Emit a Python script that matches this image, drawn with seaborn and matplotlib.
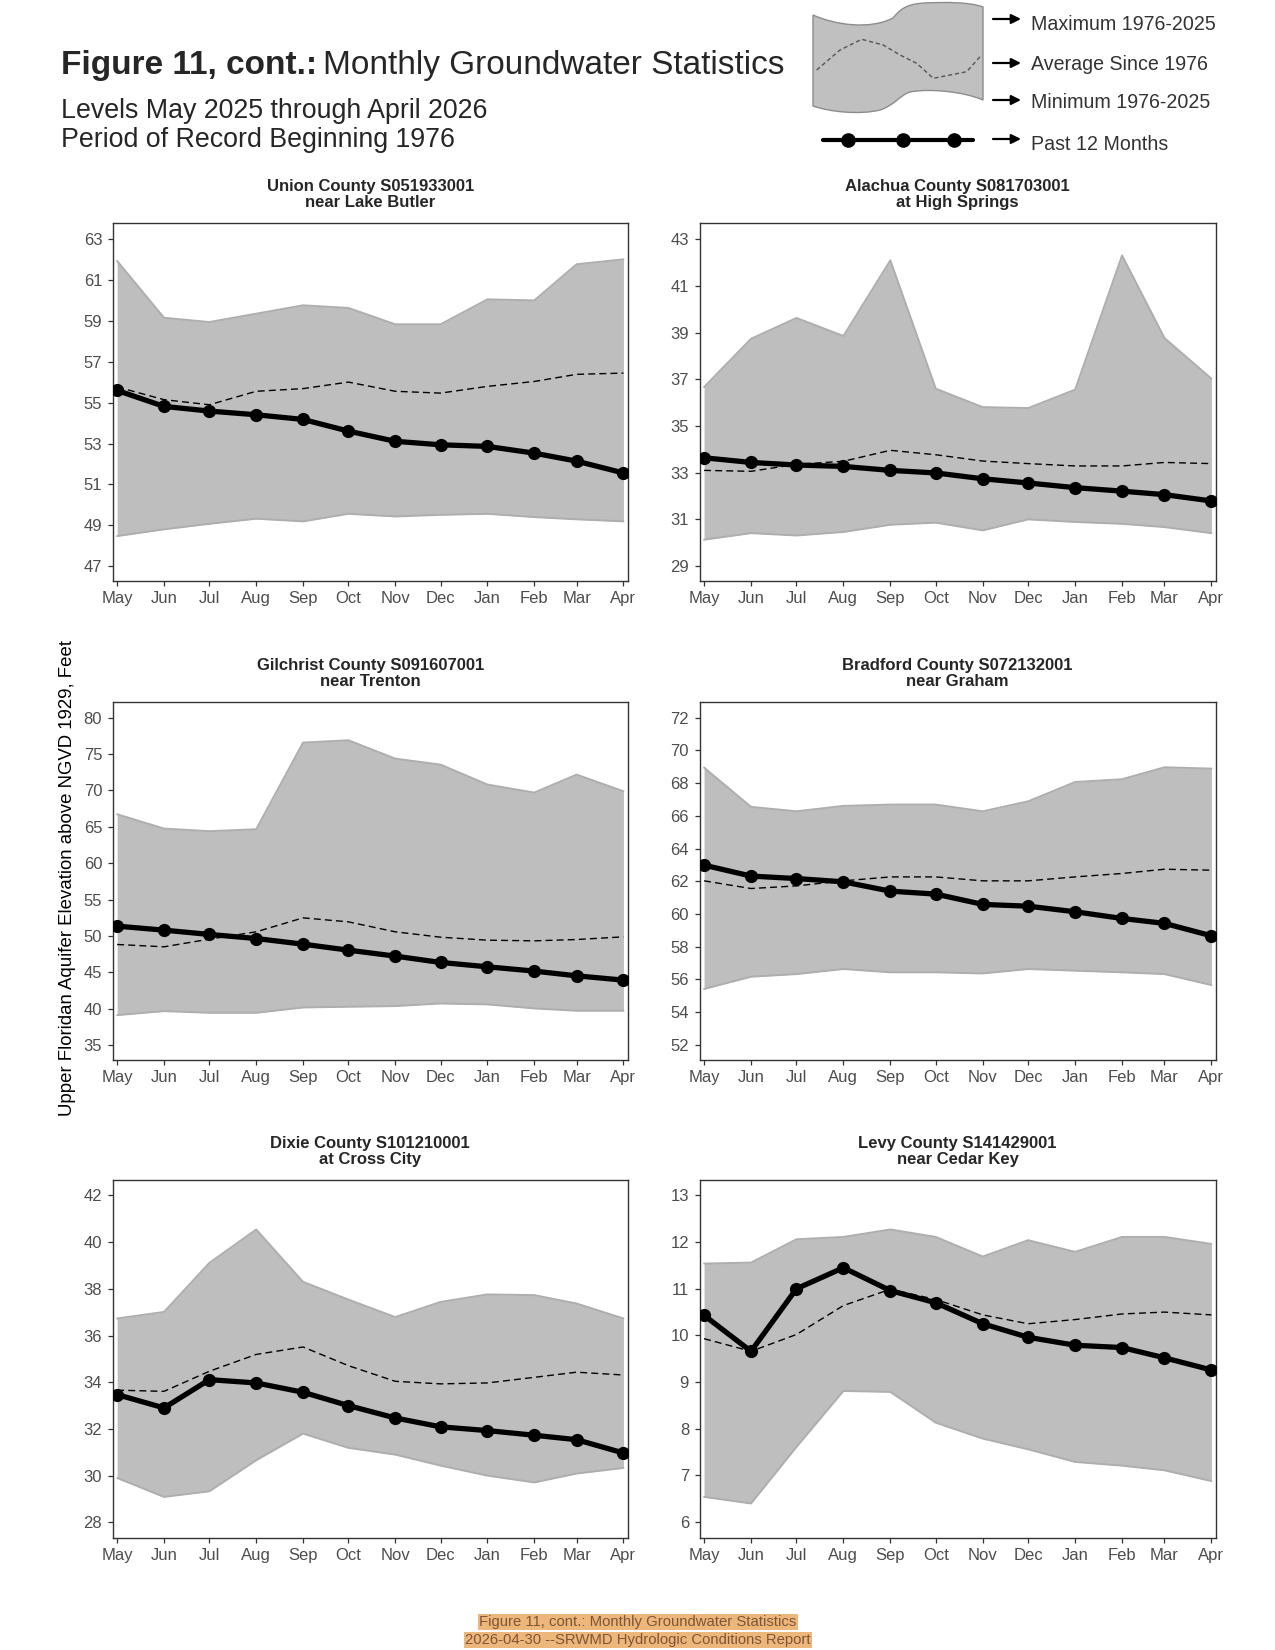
import numpy as np
import pandas as pd
import matplotlib
matplotlib.use("Agg")
import matplotlib.pyplot as plt
from matplotlib.path import Path
from matplotlib.patches import PathPatch
import seaborn as sns

# ---- data ----
months = pd.date_range("2025-05-01", periods=12, freq="MS")
month_labels = ["May", "Jun", "Jul", "Aug", "Sep", "Oct", "Nov", "Dec", "Jan", "Feb", "Mar", "Apr"]

union_max = [61.94, 59.16, 58.95, 59.36, 59.77, 59.64, 58.84, 58.84, 60.06, 60.01, 61.78, 62.02]
union_min = [48.47, 48.80, 49.07, 49.32, 49.19, 49.56, 49.43, 49.51, 49.56, 49.40, 49.29, 49.19]
union_avg = [55.77, 55.15, 54.90, 55.56, 55.69, 56.01, 55.56, 55.47, 55.80, 56.04, 56.39, 56.45]
union_now = [55.60, 54.82, 54.59, 54.41, 54.18, 53.61, 53.11, 52.94, 52.86, 52.53, 52.14, 51.56]

alachua_max = [36.67, 38.74, 39.63, 38.86, 42.10, 36.60, 35.81, 35.77, 36.56, 42.31, 38.77, 37.03]
alachua_min = [30.13, 30.41, 30.31, 30.46, 30.77, 30.86, 30.53, 31.00, 30.89, 30.81, 30.67, 30.41]
alachua_avg = [33.10, 33.06, 33.36, 33.49, 33.96, 33.77, 33.50, 33.39, 33.29, 33.29, 33.44, 33.39]
alachua_now = [33.64, 33.44, 33.33, 33.27, 33.10, 32.99, 32.74, 32.56, 32.36, 32.21, 32.06, 31.79]

gilchrist_max = [66.72, 64.75, 64.39, 64.66, 76.57, 76.89, 74.37, 73.54, 70.80, 69.70, 72.17, 69.88]
gilchrist_min = [39.11, 39.66, 39.43, 39.43, 40.16, 40.26, 40.35, 40.71, 40.58, 40.03, 39.71, 39.71]
gilchrist_avg = [48.82, 48.50, 49.55, 50.56, 52.48, 51.93, 50.56, 49.82, 49.41, 49.32, 49.50, 49.87]
gilchrist_now = [51.34, 50.79, 50.20, 49.64, 48.86, 48.04, 47.22, 46.35, 45.75, 45.16, 44.51, 43.92]

bradford_max = [68.95, 66.55, 66.28, 66.61, 66.69, 66.69, 66.28, 66.89, 68.07, 68.24, 68.97, 68.89]
bradford_min = [55.42, 56.17, 56.33, 56.64, 56.44, 56.44, 56.37, 56.64, 56.54, 56.44, 56.33, 55.66]
bradford_avg = [62.03, 61.56, 61.72, 62.03, 62.27, 62.27, 62.03, 62.03, 62.27, 62.48, 62.74, 62.68]
bradford_now = [62.99, 62.32, 62.17, 61.97, 61.40, 61.22, 60.59, 60.48, 60.14, 59.73, 59.43, 58.67]

dixie_max = [36.73, 37.01, 39.11, 40.54, 38.30, 37.54, 36.79, 37.44, 37.76, 37.73, 37.37, 36.73]
dixie_min = [29.90, 29.09, 29.33, 30.66, 31.80, 31.19, 30.90, 30.43, 30.00, 29.71, 30.09, 30.33]
dixie_avg = [33.66, 33.61, 34.47, 35.19, 35.51, 34.71, 34.04, 33.93, 33.97, 34.21, 34.43, 34.31]
dixie_now = [33.47, 32.90, 34.11, 33.97, 33.57, 33.00, 32.47, 32.09, 31.93, 31.73, 31.54, 30.97]

levy_max = [11.54, 11.56, 12.06, 12.11, 12.27, 12.11, 11.69, 12.04, 11.79, 12.11, 12.11, 11.96]
levy_min = [6.54, 6.40, 7.61, 8.81, 8.79, 8.13, 7.79, 7.56, 7.29, 7.21, 7.11, 6.88]
levy_avg = [9.93, 9.66, 10.02, 10.64, 10.99, 10.77, 10.44, 10.25, 10.34, 10.46, 10.50, 10.44]
levy_now = [10.43, 9.66, 11.00, 11.45, 10.96, 10.70, 10.25, 9.96, 9.79, 9.74, 9.52, 9.26]

titles = [
    "Union County S051933001\nnear Lake Butler",
    "Alachua County S081703001\nat High Springs",
    "Gilchrist County S091607001\nnear Trenton",
    "Bradford County S072132001\nnear Graham",
    "Dixie County S101210001\nat Cross City",
    "Levy County S141429001\nnear Cedar Key",
]
series = [
    (union_max, union_min, union_avg, union_now),
    (alachua_max, alachua_min, alachua_avg, alachua_now),
    (gilchrist_max, gilchrist_min, gilchrist_avg, gilchrist_now),
    (bradford_max, bradford_min, bradford_avg, bradford_now),
    (dixie_max, dixie_min, dixie_avg, dixie_now),
    (levy_max, levy_min, levy_avg, levy_now),
]

# axis settings per panel
ylims = [(46.27, 63.8), (28.36, 43.7), (32.94, 82.15), (51.08, 72.96), (27.33, 42.66), (5.66, 13.33)]
yticks = [np.arange(47, 64, 2), np.arange(29, 44, 2), np.arange(35, 81, 5),
          np.arange(52, 73, 2), np.arange(28, 43, 2), np.arange(6, 14, 1)]

# ---- figure ----
sns.set_theme(style="ticks")
plt.rcParams["font.family"] = ["Liberation Sans", "DejaVu Sans"]

W, H = 1275, 1650
fig = plt.figure(figsize=(12.75, 16.5), dpi=100)

col_left = [112.6 / W, 699.5 / W]
col_width = [515.4 / W, 516.5 / W]
row_top = [223, 702, 1180]
row_h = 358

span = months[-1] - months[0]
for i, (title, (mx, mn, avg, now)) in enumerate(zip(titles, series)):
    r, c = divmod(i, 2)
    ax = fig.add_axes([col_left[c], 1 - (row_top[r] + row_h) / H, col_width[c], row_h / H])
    df = pd.DataFrame({"date": months, "max": mx, "min": mn, "avg": avg, "now": now})

    ax.fill_between(df["date"], df["min"], df["max"], color="#BEBEBE", linewidth=0, zorder=1)
    ax.plot(df["date"], df["max"], color="#AEAEAE", lw=1.4, zorder=1.5)
    ax.plot(df["date"], df["min"], color="#AEAEAE", lw=1.4, zorder=1.5)
    sns.lineplot(data=df, x="date", y="avg", ax=ax, color="black", lw=1.0,
                 linestyle=(0, (5, 3)), zorder=2)
    sns.lineplot(data=df, x="date", y="now", ax=ax, color="black", lw=3.8,
                 marker="o", markersize=9.5, markeredgewidth=0, zorder=3)

    ax.set_xlim(months[0] - span * 0.009, months[-1] + span * 0.009)
    ax.set_ylim(*ylims[i])
    ax.set_yticks(yticks[i])
    ax.set_xticks(months)
    ax.set_xticklabels(month_labels)
    ax.set_xlabel("")
    ax.set_ylabel("")
    ax.set_title(title, fontsize=12, fontweight="bold", pad=11.5, linespacing=1.1)
    for s in ax.spines.values():
        s.set_visible(True)
        s.set_color("#333333")
        s.set_linewidth(1.0)
    ax.tick_params(axis="both", direction="out", length=3.5, width=0.9, color="#333333",
                   labelsize=12, labelcolor="#4D4D4D", pad=4)

# y label
fig.text(68 / W, 1 - 878 / H, "Upper Floridan Aquifer Elevation above NGVD 1929, Feet",
         rotation=90, ha="center", va="center", fontsize=13.4, color="black")

# title block
renderer = fig.canvas.get_renderer()
t1 = fig.text(61 / W, 1 - 74 / H, "Figure 11, cont.:", fontsize=24, fontweight="bold",
              ha="left", va="baseline")
bb = t1.get_window_extent(renderer)
fig.text(bb.x1 / W + 6 / W, 1 - 74 / H, "Monthly Groundwater Statistics", fontsize=24,
         ha="left", va="baseline")
fig.text(61 / W, 1 - 118 / H, "Levels May 2025 through April 2026", fontsize=19.3,
         ha="left", va="baseline")
fig.text(61 / W, 1 - 147 / H, "Period of Record Beginning 1976", fontsize=19.3,
         ha="left", va="baseline")

# legend graphic (pixel coordinates, y down)
lg = fig.add_axes([0, 0, 1, 1], facecolor="none")
lg.set_xlim(0, W)
lg.set_ylim(H, 0)
lg.axis("off")
verts = [
    (813, 15),
    (835, 25), (870, 30), (893, 18),
    (900, 10), (905, 4), (925, 3),
    (945, 2), (970, 2), (983, 7),
    (983, 100),
    (965, 92), (930, 88), (910, 92),
    (900, 95), (895, 105), (880, 110),
    (860, 115), (830, 112), (813, 106),
    (813, 15),
]
codes = [Path.MOVETO] + [Path.CURVE4] * 9 + [Path.LINETO] + [Path.CURVE4] * 9 + [Path.CLOSEPOLY]
lg.add_patch(PathPatch(Path(verts, codes), facecolor="#C0C0C0", edgecolor="#8C8C8C", lw=1.0))
wave_x = [816.7, 840, 861.7, 883.3, 900, 916.7, 933.3, 950, 966.7, 980]
wave_y = [70, 50, 39.3, 45, 55, 63.3, 78.3, 75, 71.7, 56.7]
lg.plot(wave_x, wave_y, color="#555555", lw=1.0, linestyle=(0, (3, 2)))
lg.plot([823, 973], [140, 140], color="black", lw=3.0)
lg.plot([848, 903, 954], [140, 140, 140], "o", color="black", markersize=9.5)

legend_rows = [(19, 24, "Maximum 1976-2025"), (63, 65, "Average Since 1976"),
               (100, 102, "Minimum 1976-2025"), (139, 145, "Past 12 Months")]
for ay, ty, label in legend_rows:
    lg.annotate("", xy=(1021, ay), xytext=(993, ay),
                arrowprops=dict(arrowstyle="-|>", color="black", lw=1.6, mutation_scale=14,
                                shrinkA=0, shrinkB=0))
    lg.text(1031, ty, label, fontsize=14.1, color="#333333", ha="left", va="center")

# footer
for y, line in [(1622, "Figure 11, cont.: Monthly Groundwater Statistics"),
                (1640, "2026-04-30 --SRWMD Hydrologic Conditions Report")]:
    fig.text(638 / W, 1 - y / H, line, fontsize=10.7, color="#7E5535", ha="center", va="center",
             bbox=dict(boxstyle="square,pad=0.1", fc="#EDB77C", ec="none"))

fig.savefig("out.png", dpi=100)
